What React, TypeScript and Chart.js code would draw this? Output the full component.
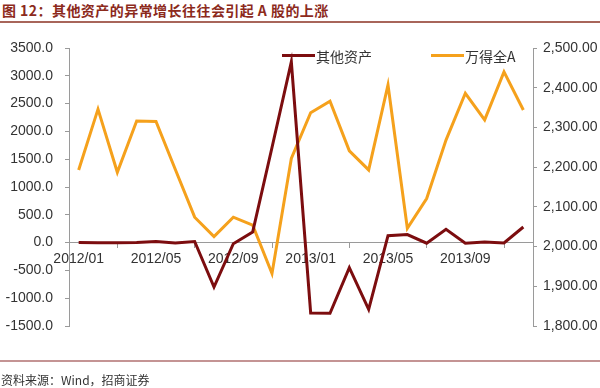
import React, { useEffect, useRef } from "react";
import { Chart, registerables } from "chart.js";

Chart.register(...registerables);

const categories = [
  "2012/01", "2012/02", "2012/03", "2012/04", "2012/05", "2012/06",
  "2012/07", "2012/08", "2012/09", "2012/10", "2012/11", "2012/12",
  "2013/01", "2013/02", "2013/03", "2013/04", "2013/05", "2013/06",
  "2013/07", "2013/08", "2013/09", "2013/10", "2013/11", "2013/12",
];

const otherAssets = [
  0, -2, -3, 0, 20, -8, 20, -800, -20, 190, 1710, 3250,
  -1265, -1270, -450, -1200, 125, 145, -10, 240, -10, 10, -5, 280,
];

const windA = [
  2193, 2346, 2187, 2316, 2315, 2194, 2074, 2025, 2074, 2054, 1932, 2222,
  2337, 2366, 2241, 2193, 2407, 2046, 2121, 2268, 2386, 2319, 2440, 2344,
];

const leftTicks = { min: -1500, max: 3500, step: 500 };
const rightTicks = { min: 1800, max: 2500, step: 100 };

const DARK_RED = "#7c0d0f";
const ORANGE = "#f5a11c";
const AXIS = "#9a9a9a";
const TEXT = "#333333";

const legendPlugin = {
  id: "customLegend",
  afterDatasetsDraw(chart: any) {
    const ctx = chart.ctx;
    const entries = [
      { x: 282, w: 33 },
      { x: 431, w: 33 },
    ];
    ctx.save();
    ctx.font = "14px 'Noto Sans CJK SC', 'Liberation Sans', sans-serif";
    ctx.textBaseline = "middle";
    ctx.textAlign = "left";
    chart.data.datasets.forEach((ds: any, i: number) => {
      const e = entries[i];
      const y = 55.5;
      ctx.fillStyle = ds.borderColor;
      ctx.fillRect(e.x, y - 1.5, e.w, 3);
      ctx.fillStyle = TEXT;
      ctx.fillText(ds.label, e.x + e.w + 1, y + 1);
    });
    ctx.restore();
  },
};

export default function App() {
  const ref = useRef<HTMLCanvasElement | null>(null);

  useEffect(() => {
    if (!ref.current) return;
    const tickFont = { family: "'Liberation Sans', Arial, sans-serif", size: 14 };
    const chart = new Chart(ref.current, {
      type: "line",
      data: {
        labels: categories,
        datasets: [
          {
            label: "其他资产",
            data: otherAssets,
            yAxisID: "y",
            borderColor: DARK_RED,
            backgroundColor: DARK_RED,
            borderWidth: 3,
            pointRadius: 0,
            tension: 0,
          },
          {
            label: "万得全A",
            data: windA,
            yAxisID: "y1",
            borderColor: ORANGE,
            backgroundColor: ORANGE,
            borderWidth: 3,
            pointRadius: 0,
            tension: 0,
          },
        ],
      },
      options: {
        responsive: false,
        animation: false,
        layout: { padding: { top: 48, bottom: 62, left: 0, right: 0 } },
        plugins: {
          legend: { display: false },
          tooltip: { enabled: false },
          title: { display: false },
        },
        scales: {
          x: {
            type: "category",
            position: { y: 0 } as any,
            offset: true,
            grid: {
              offset: true,
              drawOnChartArea: false,
              drawTicks: true,
              tickLength: 5,
              color: AXIS,
            },
            border: { color: AXIS, width: 1 },
            ticks: {
              autoSkip: false,
              maxRotation: 0,
              minRotation: 0,
              padding: 3,
              color: TEXT,
              font: tickFont,
              callback: (_v: any, i: number) => (i % 4 === 0 ? categories[i] : null),
            },
          },
          y: {
            position: "left",
            min: leftTicks.min,
            max: leftTicks.max,
            afterFit: (s: any) => {
              s.width = 69;
            },
            grid: { drawOnChartArea: false, tickLength: 4, color: AXIS },
            border: { color: AXIS, width: 1 },
            ticks: {
              stepSize: leftTicks.step,
              padding: 12,
              color: TEXT,
              font: tickFont,
              callback: (v: any) => Number(v).toFixed(1),
            },
          },
          y1: {
            position: "right",
            min: rightTicks.min,
            max: rightTicks.max,
            afterFit: (s: any) => {
              s.width = 67;
            },
            grid: { drawOnChartArea: false, tickLength: 4, color: AXIS },
            border: { color: AXIS, width: 1 },
            ticks: {
              stepSize: rightTicks.step,
              padding: 6,
              color: TEXT,
              font: tickFont,
              callback: (v: any) =>
                Number(v).toLocaleString("en-US", {
                  minimumFractionDigits: 2,
                  maximumFractionDigits: 2,
                }),
            },
          },
        },
      },
      plugins: [legendPlugin],
    });
    return () => chart.destroy();
  }, []);

  return (
    <div
      style={{
        position: "absolute",
        left: 0,
        top: 0,
        width: 600,
        height: 388,
        background: "#ffffff",
        overflow: "hidden",
      }}
    >
      <div
        style={{
          position: "absolute",
          left: 2,
          top: 2,
          fontFamily: "'Noto Sans CJK SC', sans-serif",
          fontWeight: 700,
          fontSize: 14,
          letterSpacing: "0.45px",
          lineHeight: "16px",
          color: "#8c2a1c",
          whiteSpace: "nowrap",
        }}
      >
        图 12：其他资产的异常增长往往会引起 A 股的上涨
      </div>
      <div
        style={{
          position: "absolute",
          left: 0,
          top: 21,
          width: 600,
          height: 2,
          background: "#a8655a",
        }}
      />
      <canvas
        ref={ref}
        width={600}
        height={388}
        style={{ position: "absolute", left: 0, top: 0, width: 600, height: 388 }}
      />
      <div
        style={{
          position: "absolute",
          left: 0,
          top: 360,
          width: 600,
          height: 2,
          background: "#c49494",
        }}
      />
      <div
        style={{
          position: "absolute",
          left: 1,
          top: 372,
          fontFamily: "'Noto Sans CJK SC', sans-serif",
          fontSize: 12,
          lineHeight: "16px",
          color: "#333333",
          whiteSpace: "nowrap",
        }}
      >
        资料来源：Wind，招商证券
      </div>
    </div>
  );
}
